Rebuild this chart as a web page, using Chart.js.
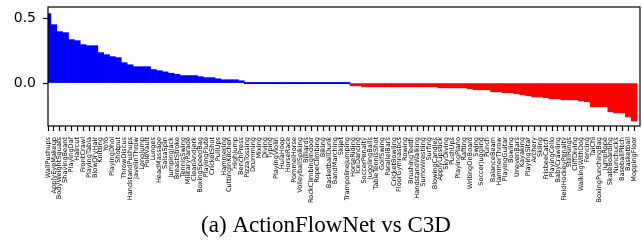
<!doctype html>
<html>
<head>
<meta charset="utf-8">
<title>ActionFlowNet vs C3D</title>
<script src="https://cdn.jsdelivr.net/npm/chart.js@4"></script>
<style>
  html, body { margin: 0; padding: 0; background: #fff; }
  #wrap { width: 642px; height: 246px; }
</style>
</head>
<body>
<div id="wrap"><canvas id="chart" width="642" height="246"></canvas></div>
<script>
  // per-class accuracy difference, sorted high to low
  const classNames = [
    'WallPushups', 'ApplyEyeMakeup', 'BodyWeightSquats', 'ShavingBeard', 'PlayingDaf',
    'Haircut', 'FrontCrawl', 'PlayingTabla', 'BlowDryHair', 'Knitting',
    'YoYo', 'PlayingDhol', 'Shotput', 'ThrowDiscus', 'HandstandPushups',
    'JavelinThrow', 'LongJump', 'PoleVault', 'Lunges', 'HeadMassage',
    'SalsaSpin', 'JumpingJack', 'BreastStroke', 'TennisSwing', 'MilitaryParade',
    'CleanAndJerk', 'BoxingSpeedBag', 'PlayingFlute', 'CricketShot', 'PullUps',
    'Hammering', 'CuttingInKitchen', 'HighJump', 'BenchPress', 'PizzaTossing',
    'Drumming', 'Mixing', 'Diving', 'Typing', 'PlayingViolin',
    'HulaHoop', 'HorseRace', 'PommelHorse', 'VolleyballSpiking', 'Billiards',
    'RockClimbingIndoor', 'RopeClimbing', 'Biking', 'BasketballDunk', 'BandMarching',
    'Skijet', 'TrampolineJumping', 'HorseRiding', 'IceDancing', 'SoccerPenalty',
    'JugglingBalls', 'TableTennisShot', 'GolfSwing', 'ParallelBars', 'CricketBowling',
    'FloorGymnastics', 'Rowing', 'BrushingTeeth', 'HandstandWalking', 'SumoWrestling',
    'Surfing', 'BlowingCandles', 'ApplyLipstick', 'SkyDiving', 'PushUps',
    'PlayingPiano', 'Rafting', 'WritingOnBoard', 'Swing', 'SoccerJuggling',
    'Punch', 'BalanceBeam', 'HammerThrow', 'PlayingGuitar', 'Bowling',
    'UnevenBars', 'Kayaking', 'PlayingSitar', 'Archery', 'Skiing',
    'FrisbeeCatch', 'PlayingCello', 'BabyCrawling', 'FieldHockeyPenalty', 'StillRings',
    'CliffDiving', 'WalkingWithDog', 'Fencing', 'TaiChi', 'BoxingPunchingBag',
    'JumpRope', 'SkateBoarding', 'Nunchucks', 'BaseballPitch', 'Basketball',
    'MoppingFloor'
  ];

  const accuracyDiff = [
    0.539, 0.453, 0.399, 0.391, 0.337, 0.329, 0.298, 0.290, 0.290, 0.236,
    0.220, 0.205, 0.197, 0.158, 0.142, 0.127, 0.127, 0.127, 0.105, 0.096,
    0.087, 0.076, 0.068, 0.058, 0.058, 0.058, 0.050, 0.042, 0.042, 0.033,
    0.026, 0.026, 0.026, 0.018, 0, 0, 0, 0, 0, 0,
    0, 0, 0, 0, 0, 0, 0, 0, 0, 0,
    0, 0, -0.021, -0.021, -0.029, -0.029, -0.029, -0.029, -0.029, -0.029,
    -0.029, -0.029, -0.029, -0.029, -0.029, -0.029, -0.029, -0.037, -0.037, -0.037,
    -0.037, -0.037, -0.044, -0.052, -0.052, -0.052, -0.068, -0.068, -0.075, -0.075,
    -0.083, -0.091, -0.099, -0.107, -0.107, -0.114, -0.122, -0.122, -0.130, -0.130,
    -0.130, -0.138, -0.145, -0.184, -0.184, -0.184, -0.223, -0.231, -0.231, -0.262,
    -0.294
  ];

  const yTickValues = [0, 0.5];
  const yLimits = [-0.333, 0.59];
  const caption = '(a) ActionFlowNet vs C3D';

  const frameAndCaption = {
    id: 'frameAndCaption',
    afterDraw(chart) {
      const { ctx, chartArea: a } = chart;
      ctx.save();
      ctx.strokeStyle = '#000';
      ctx.lineWidth = 1.2;
      ctx.strokeRect(a.left, a.top, a.right - a.left, a.bottom - a.top);
      ctx.fillStyle = '#000';
      ctx.font = '23px "Liberation Serif"';
      ctx.textAlign = 'center';
      ctx.textBaseline = 'alphabetic';
      ctx.fillText(caption, 326, 232);
      ctx.restore();
    },
  };

  // keep the plot box where the reference has it
  function noPadding(scale) {
    scale.paddingLeft = 0;
    scale.paddingRight = 0;
    scale.paddingTop = 0;
    scale.paddingBottom = 0;
  }

  new Chart(document.getElementById('chart'), {
    type: 'bar',
    plugins: [frameAndCaption],
    data: {
      labels: [...classNames, ''],
      datasets: [{
        data: accuracyDiff,
        backgroundColor: accuracyDiff.map((v) => (v >= 0 ? '#0000ff' : '#ff0000')),
        borderWidth: 0,
        barPercentage: 1,
        categoryPercentage: 1,
        minBarLength: 1.3,
        clip: 0,
      }],
    },
    options: {
      responsive: false,
      animation: false,
      events: [],
      layout: { padding: { top: 7, right: 2, bottom: 0, left: 0 } },
      plugins: {
        legend: { display: false },
        tooltip: { enabled: false },
      },
      scales: {
        x: {
          offset: false,
          afterFit(scale) {
            scale.height = 120;
            noPadding(scale);
          },
          border: { display: false },
          grid: {
            offset: false,
            drawOnChartArea: false,
            drawTicks: true,
            tickLength: 5,
            tickWidth: 1.2,
            tickColor: (ctx) => (ctx.index === classNames.length ? 'rgba(0,0,0,0)' : '#000'),
          },
          ticks: {
            autoSkip: false,
            maxRotation: 90,
            minRotation: 90,
            padding: 6,
            color: '#000',
            font: { family: 'DejaVu Sans', size: 6.6 },
          },
        },
        y: {
          min: yLimits[0],
          max: yLimits[1],
          afterFit(scale) {
            scale.width = 48;
            noPadding(scale);
          },
          afterBuildTicks(scale) { scale.ticks = yTickValues.map((value) => ({ value })); },
          border: { display: false },
          grid: {
            drawOnChartArea: false,
            drawTicks: true,
            tickLength: 5,
            tickWidth: 1.2,
            tickColor: '#000',
          },
          ticks: {
            padding: 7,
            color: '#000',
            font: { family: 'DejaVu Sans', size: 14 },
            callback: (value) => Number(value).toFixed(1),
          },
        },
      },
    },
  });
</script>
</body>
</html>
